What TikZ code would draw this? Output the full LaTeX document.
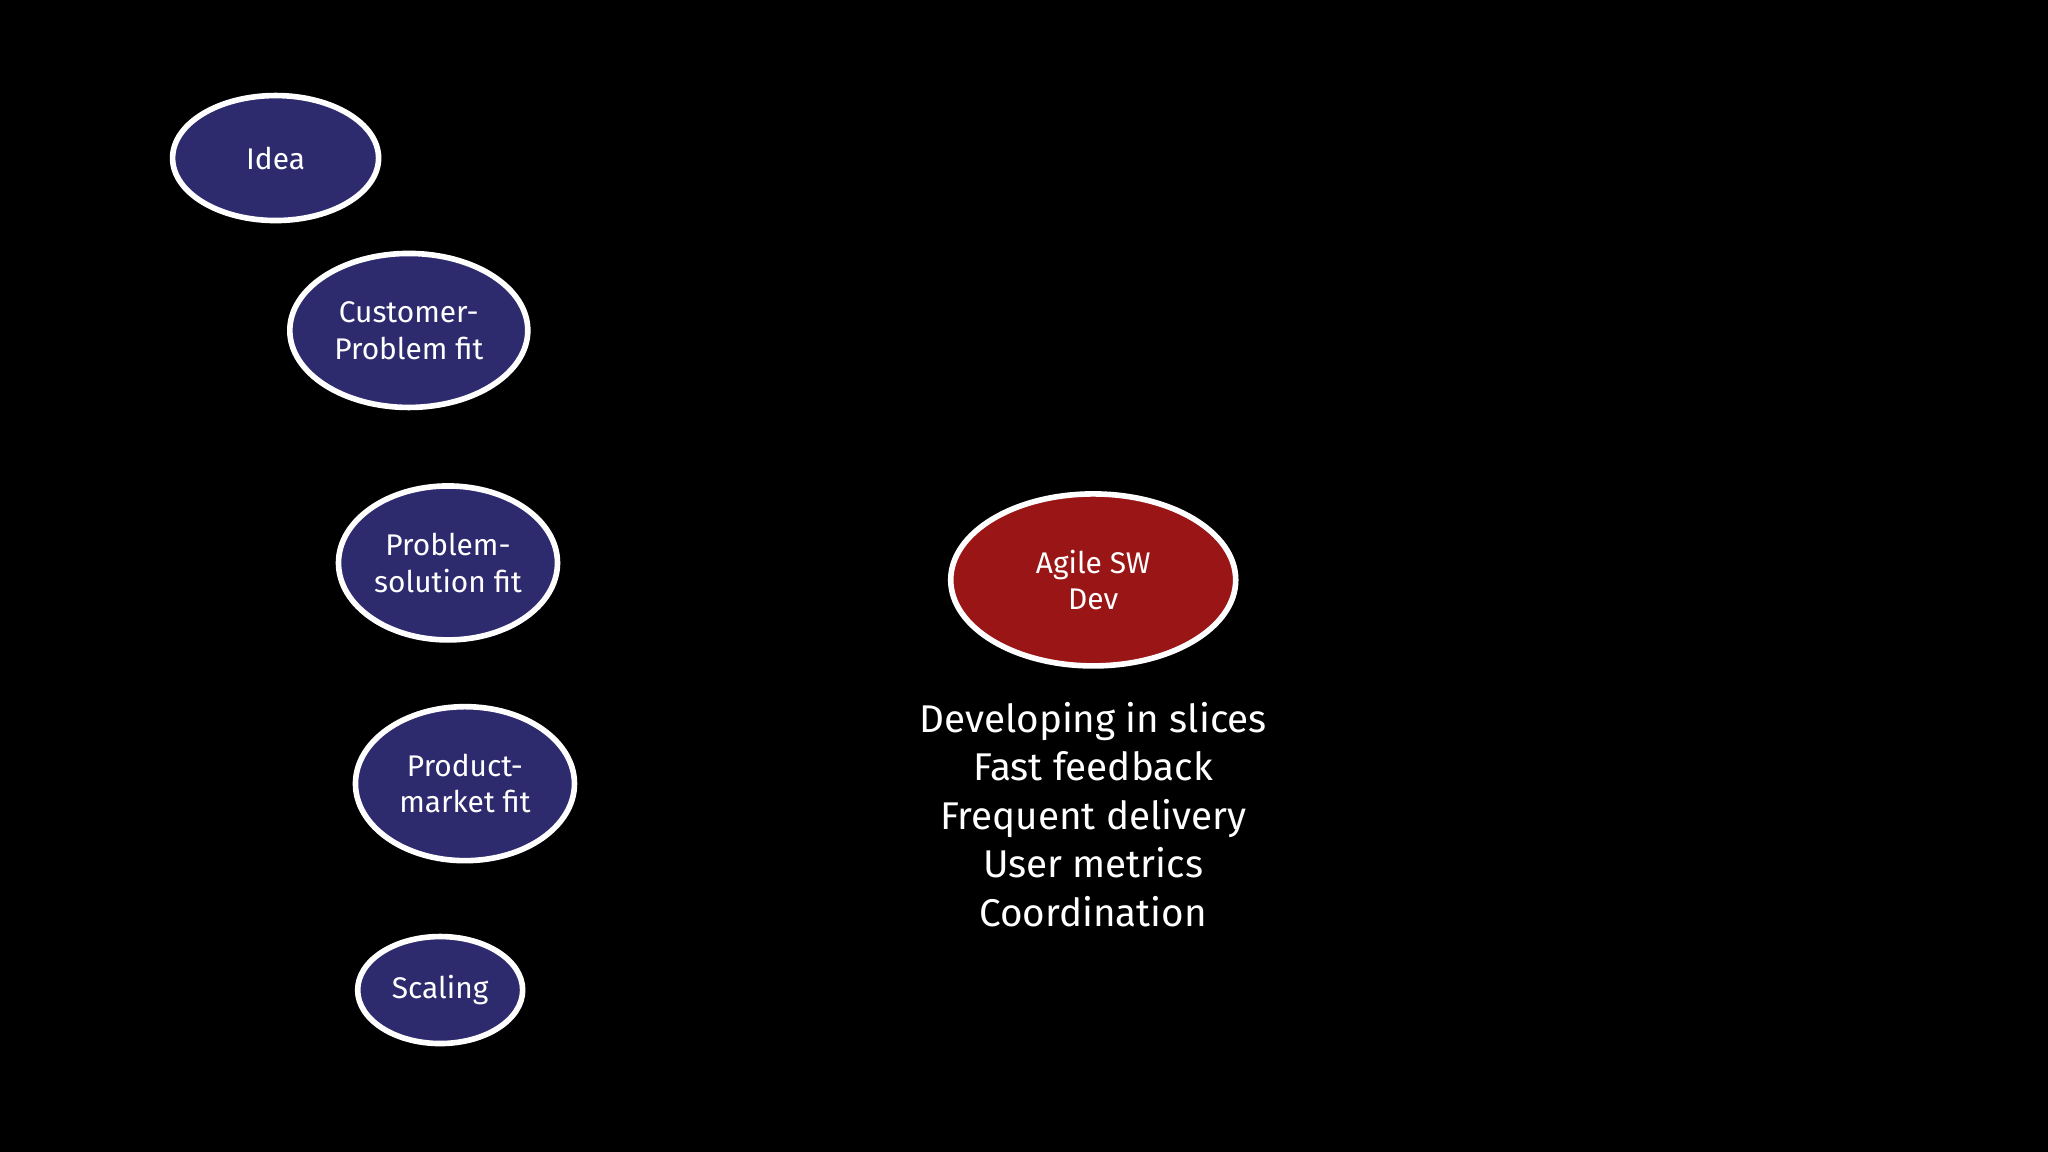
\documentclass[tikz,border=0pt]{standalone}
\usepackage{fontspec}
\setmainfont{Fira Sans}
\usetikzlibrary{shapes.geometric}
\definecolor{nblue}{HTML}{2E2A6E}
\definecolor{nred}{HTML}{9A1616}
\tikzset{
  stage/.style={ellipse,draw=white,line width=1.6pt,fill=nblue,text=white,inner sep=0pt,align=center,font=\fontsize{8.5}{10.4}\selectfont},
  agile/.style={stage,fill=nred},
  listtext/.style={text=white,align=center,font=\fontsize{11}{13.8}\selectfont}
}
\begin{document}
\begin{tikzpicture}[x=0.01306cm,y=-0.01306cm]
\fill[black] (0,0) rectangle (1568,882);
\useasboundingbox (0,0) rectangle (1568,882);
\node[stage,minimum width=2.06cm,minimum height=1.25cm] (idea) at (211,121) {Idea};
\node[stage,minimum width=2.38cm,minimum height=1.54cm] (cpf) at (313,253) {Customer-\\Problem fit};
\node[stage,minimum width=2.19cm,minimum height=1.54cm] (psf) at (343,431) {Problem-\\solution fit};
\node[stage,minimum width=2.19cm,minimum height=1.54cm] (pmf) at (356,600) {Product-\\market fit};
\node[stage,minimum width=1.65cm,minimum height=1.07cm] (scal) at (337,758) {Scaling};
\node[agile,minimum width=2.85cm,minimum height=1.72cm] (agile) at (837,444) {Agile SW\\Dev};
\node[listtext,anchor=north] (list) at (837,528) {Developing in slices\\Fast feedback\\Frequent delivery\\User metrics\\Coordination};
\end{tikzpicture}
\end{document}
